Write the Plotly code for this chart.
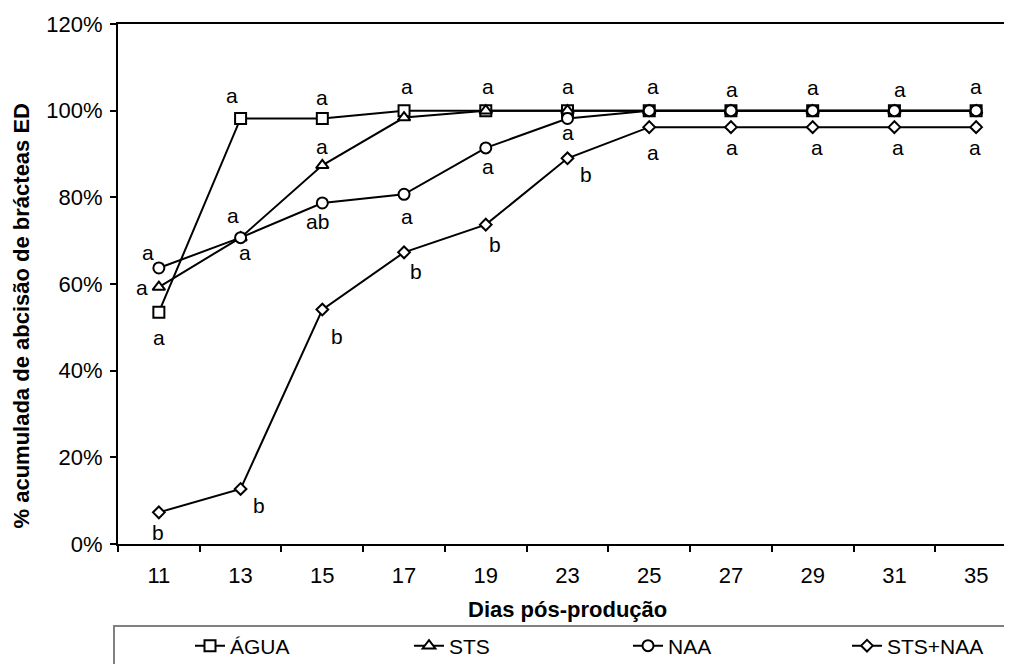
import plotly.graph_objects as go

# ---- data ----
days = ['11', '13', '15', '17', '19', '23', '25', '27', '29', '31', '35']
agua = [53.5, 98.2, 98.2, 100, 100, 100, 100, 100, 100, 100, 100]
sts = [59.3, 70.7, 87.4, 98.4, 100, 100, 100, 100, 100, 100, 100]
naa = [63.7, 70.7, 78.7, 80.7, 91.4, 98.2, 100, 100, 100, 100, 100]
sts_naa = [7.3, 12.7, 54.1, 67.3, 73.7, 89.0, 96.2, 96.2, 96.2, 96.2, 96.2]

agua_sig = ['a', 'a', 'a', 'a', 'a', 'a', 'a', 'a', 'a', 'a', 'a']
sts_sig = ['a', 'a', 'a', None, None, None, None, None, None, None, None]
naa_sig = ['a', 'a', 'ab', 'a', 'a', 'a', None, None, None, None, None]
sts_naa_sig = ['b', 'b', 'b', 'b', 'b', 'b', 'a', 'a', 'a', 'a', 'a']

series_names = ['ÁGUA', 'STS', 'NAA', 'STS+NAA']
y_ticks = [0, 20, 40, 60, 80, 100, 120]
y_ticktext = [f'{v}%' for v in y_ticks]

# ---- layout geometry (page has an 8px body margin) ----
OFF = 8
W, H = 1012, 664
ML, MT, MR = 110, 16, 3
PW = W - ML - MR
PH = 520
MB = H - MT - PH


def px(sx):
    return (sx - OFF - ML) / PW


def py(sy):
    return (OFF + MT + PH - sy) / PH


# ---- styling / label placement (pixels: dx right, dy down) ----
symbols = ['square', 'triangle-up', 'circle', 'diamond']
sizes = [11, 11, 11, 9]
label_offsets = [
    [(0, 25), (-9, -23), (0, -21), (3, -24), (2, -24), (0, -24), (4, -24), (1, -21), (0, -23), (6, -21), (0, -24)],
    [(-17, 0), (4, 15), (0, -19)] + [(0, 0)] * 8,
    [(-11, -15), (-8, -22), (-5, 19), (3, 22), (2, 19), (0, 14)] + [(0, 0)] * 5,
    [(-1, 20), (18, 17), (15, 27), (12, 19), (9, 20), (18, 16), (4, 25), (1, 20), (4, 20), (4, 20), (-1, 20)],
]
legend_ids = ['legend', 'legend2', 'legend3', 'legend4']
legend_text_x = [230, 449, 668, 887]

FONT = 'Liberation Sans, Arial, sans-serif'
FS = 22
FS_SMALL = 21

fig = go.Figure()
all_vals = [agua, sts, naa, sts_naa]
all_sig = [agua_sig, sts_sig, naa_sig, sts_naa_sig]

for name, vals, sym, sz, lg in zip(series_names, all_vals, symbols, sizes, legend_ids):
    fig.add_trace(go.Scatter(
        x=days, y=vals, name=name, mode='lines+markers',
        line=dict(color='black', width=2),
        marker=dict(symbol=sym, size=sz, color='white',
                    line=dict(color='black', width=2)),
        cliponaxis=False, legend=lg,
    ))

annotations = []
for vals, sig, offs in zip(all_vals, all_sig, label_offsets):
    for i, (v, s, (dx, dy)) in enumerate(zip(vals, sig, offs)):
        if s is None:
            continue
        annotations.append(dict(
            x=i, y=v, xref='x', yref='y', text=s, showarrow=False,
            xanchor='center', yanchor='middle', xshift=dx, yshift=-dy,
            font=dict(family=FONT, size=FS_SMALL, color='black')))

# axis titles
annotations.append(dict(
    x=0.5, y=py(609), xref='paper', yref='paper', text='<b>Dias pós-produção</b>',
    showarrow=False, xanchor='center', yanchor='middle',
    font=dict(family=FONT, size=FS, color='black')))
annotations.append(dict(
    x=px(20.5), y=py(316), xref='paper', yref='paper',
    text='<b>% acumulada de abcisão de brácteas ED</b>', textangle=-90,
    showarrow=False, xanchor='center', yanchor='middle',
    font=dict(family=FONT, size=FS, color='black')))

legend_common = dict(orientation='h', xanchor='left', y=py(646), yanchor='middle',
                     bgcolor='rgba(0,0,0,0)', borderwidth=0,
                     font=dict(family=FONT, size=FS_SMALL, color='black'))

fig.update_layout(
    width=W, height=H,
    margin=dict(l=ML, r=MR, t=MT, b=MB, pad=0, autoexpand=False),
    paper_bgcolor='white', plot_bgcolor='white',
    font=dict(family=FONT, size=FS, color='black'),
    showlegend=True,
    annotations=annotations,
    shapes=[dict(type='rect', xref='paper', yref='paper',
                 x0=px(114), x1=1.05, y0=-0.4, y1=py(626),
                 line=dict(color='#808080', width=2), fillcolor='rgba(0,0,0,0)',
                 layer='below')],
)
for lg, tx in zip(legend_ids, legend_text_x):
    fig.update_layout({lg: dict(legend_common, x=px(tx - 40))})

fig.update_xaxes(
    type='category', range=[-0.5, 10.5], tickson='boundaries',
    ticks='outside', ticklen=6, tickwidth=1.5, tickcolor='black',
    ticklabelstandoff=11,
    showline=True, linecolor='black', linewidth=2, mirror=True,
    showgrid=False, zeroline=False,
    tickfont=dict(family=FONT, size=FS, color='black'),
)
fig.update_yaxes(
    range=[0, 120], tickmode='array', tickvals=y_ticks, ticktext=y_ticktext,
    ticks='outside', ticklen=6, tickwidth=1.5, tickcolor='black',
    ticklabelstandoff=3,
    showline=True, linecolor='black', linewidth=2,
    showgrid=False, zeroline=False,
    tickfont=dict(family=FONT, size=FS, color='black'),
)

fig.write_html('out.html')
